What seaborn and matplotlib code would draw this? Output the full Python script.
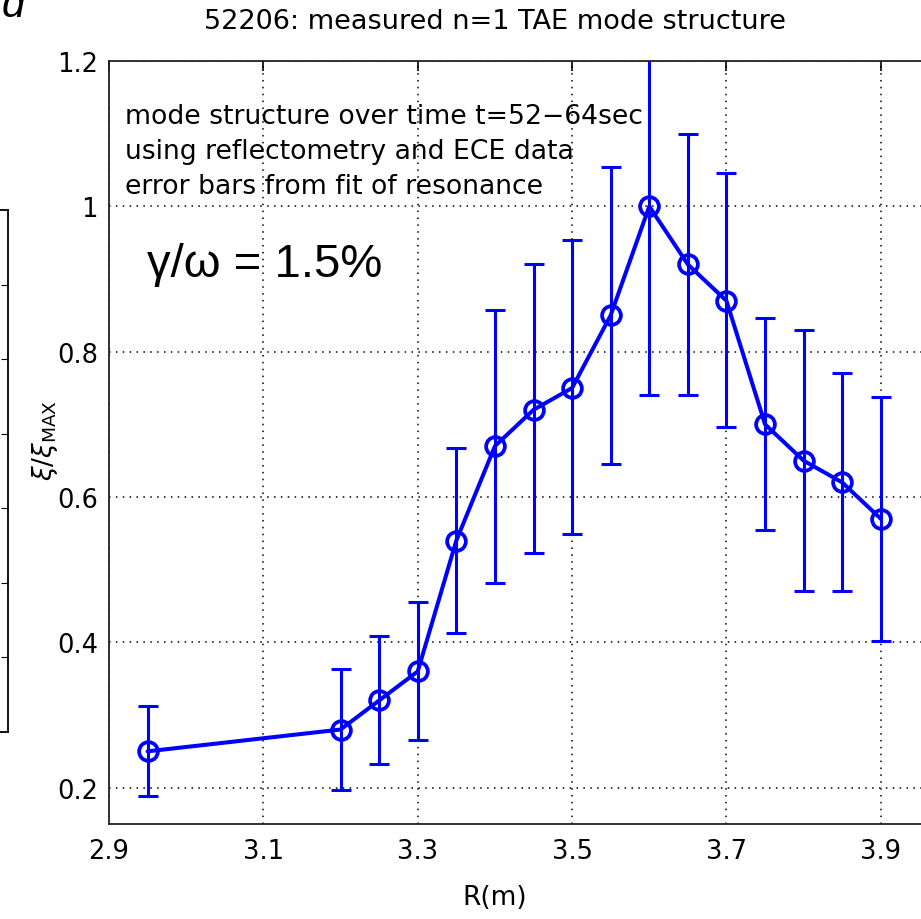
import numpy as np
import pandas as pd
import seaborn as sns
import matplotlib.pyplot as plt
from matplotlib.ticker import FixedLocator

### Data
r_m = [2.95, 3.20, 3.25, 3.30, 3.35, 3.40, 3.45, 3.50, 3.55, 3.60, 3.65, 3.70, 3.75, 3.80, 3.85, 3.90]
xi_norm = [0.25, 0.28, 0.32, 0.36, 0.54, 0.67, 0.72, 0.75, 0.85, 1.00, 0.92, 0.87, 0.70, 0.65, 0.62, 0.57]
err_upper = [0.312, 0.363, 0.409, 0.455, 0.667, 0.857, 0.920, 0.954, 1.054, 1.260, 1.099, 1.046, 0.847, 0.830, 0.770, 0.738]
err_lower = [0.188, 0.197, 0.233, 0.265, 0.413, 0.482, 0.523, 0.549, 0.645, 0.740, 0.741, 0.697, 0.554, 0.470, 0.470, 0.402]

x_ticks = [2.9, 3.1, 3.3, 3.5, 3.7, 3.9]
x_ticklabels = ['2.9', '3.1', '3.3', '3.5', '3.7', '3.9']
y_ticks = [0.2, 0.4, 0.6, 0.8, 1.0, 1.2]
y_ticklabels = ['0.2', '0.4', '0.6', '0.8', '1', '1.2']

title = '52206: measured n=1 TAE mode structure'
note_lines = ['mode structure over time t=52\u221264sec',
              'using reflectometry and ECE data',
              'error bars from fit of resonance']
growth = '\u03b3/\u03c9 = 1.5%'

df = pd.DataFrame({'R': r_m, 'xi': xi_norm})
yerr = np.array([np.array(xi_norm) - np.array(err_lower),
                 np.array(err_upper) - np.array(xi_norm)])

sns.set_style('white')
plt.rcParams['font.family'] = ['DejaVu Sans']
plt.rcParams['mathtext.fontset'] = 'dejavusans'
plt.rcParams['text.color'] = 'black'
plt.rcParams['xtick.color'] = 'black'
plt.rcParams['ytick.color'] = 'black'

W, H = 921, 920
fig = plt.figure(figsize=(W / 100, H / 100), dpi=100)

# main axes (runs past the right edge like the cropped original)
ax = fig.add_axes([109 / W, (H - 825) / H, (958 - 109) / W, (825 - 62) / H])
ax.set_xlim(2.9, 4.0)
ax.set_ylim(0.15, 1.2)

blue = (0, 0, 1)
ax.errorbar(r_m, xi_norm, yerr=yerr, fmt='none', ecolor=blue,
            elinewidth=2.2, capsize=7, capthick=2.2, zorder=3)
sns.lineplot(data=df, x='R', y='xi', ax=ax, color=blue, lw=2.9,
             marker='o', markersize=13.5, markerfacecolor='none',
             markeredgecolor=blue, markeredgewidth=2.7, zorder=4)

ax.xaxis.set_major_locator(FixedLocator(x_ticks))
ax.yaxis.set_major_locator(FixedLocator(y_ticks))
ax.set_xticklabels(x_ticklabels)
ax.set_yticklabels(y_ticklabels)
ax.tick_params(direction='in', length=7, width=1.2, labelsize=18.5,
               top=True, right=True, pad=10, colors='black')
ax.tick_params(axis='y', pad=8)
ax.grid(True, color='black', linestyle=(0, (1, 3.5)), linewidth=1.1)
for s in ax.spines.values():
    s.set_color('#222222')
    s.set_linewidth(1.3)
ax.set_xlabel('')
ax.set_ylabel('')

fig.text(495 / W, 1 - 898 / H, 'R(m)', ha='center', va='center', fontsize=19)
fig.text(45 / W, 1 - 440 / H, r'$\xi/\xi_{\mathrm{MAX}}$', ha='center',
         va='center', rotation=90, fontsize=19)

fig.text(495 / W, 1 - 22 / H, title, ha='center', va='center', fontsize=19.5)

for i, line in enumerate(note_lines):
    fig.text(125 / W, 1 - (117 + 35 * i) / H, line, ha='left', va='center',
             fontsize=19.2)
fig.text(147 / W, 1 - 265 / H, growth, ha='left', va='center', fontsize=34,
         family=['Liberation Sans', 'DejaVu Sans'])

# cropped panel label and neighbouring panel at the left edge
fig.text(2 / W, 1 - 17 / H, 'd', ha='left', va='baseline', fontsize=30,
         style='italic', family=['Liberation Sans', 'DejaVu Sans'])
ax_left = fig.add_axes([-0.2, (H - 733) / H, 0.2 + 8 / W, (733 - 211) / H])
ax_left.set_xticks([])
ax_left.set_ylim(0, 7)
ax_left.set_yticks(np.arange(1, 7))
ax_left.tick_params(axis='y', direction='in', length=5, left=False, right=True,
                    labelleft=False)
for s in ax_left.spines.values():
    s.set_color('black')
    s.set_linewidth(1.3)

fig.savefig('out.png', dpi=100)
